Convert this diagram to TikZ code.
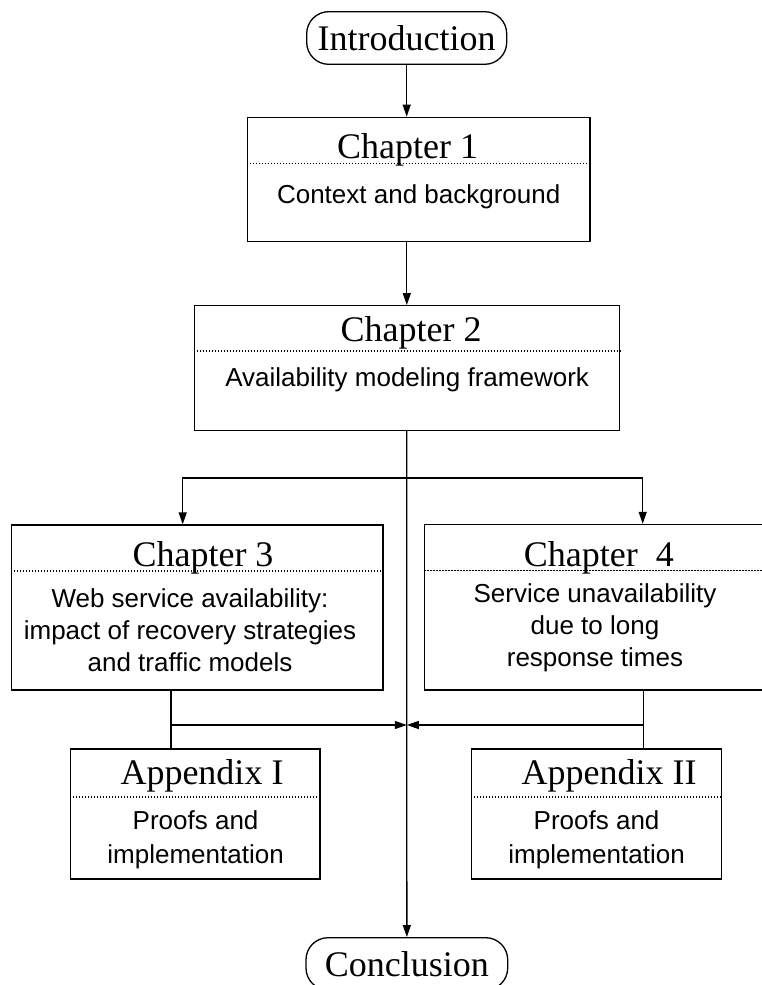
\documentclass[tikz,border=0pt]{standalone}
\usepackage{fontspec}
\setmainfont{Liberation Serif}
\newfontfamily\arialf{Liberation Sans}
\usepackage{tikz}
\usetikzlibrary{calc,arrows.meta}
\tikzset{
	box/.style={draw, line width=1.3pt, inner sep=0pt},
	roundbox/.style={box, rounded corners=22pt, font=\fontsize{36}{40}\selectfont},
	title/.style={anchor=base, inner sep=0pt, font=\fontsize{36}{40}\selectfont},
	body/.style={anchor=base, inner sep=0pt, align=center, font=\arialf\fontsize{26}{32}\selectfont},
	sep/.style={line width=1.2pt, dash pattern=on 1.4pt off 1.6pt},
	link/.style={line width=1.3pt},
	arr/.style={link, -{Triangle[length=12pt,width=8pt]}}
}

\begin{document}
\begin{tikzpicture}[x=1pt, y=-1pt]
		%%%%% START %%%%%
		\useasboundingbox (0,0) rectangle (761,985);
		
		\node[roundbox, minimum width=200, minimum height=52.6] (intro) at (406.7,38) {Introduction};
		
		\node[box, minimum width=342.7, minimum height=124.4] (ch1) at (418.65,179.5) {};
		\node[title] (ch1t) at (407.5,158.3) {Chapter 1};
		\draw[sep] ([yshift=-47]ch1.north west) -- ([yshift=-47]ch1.north east);
		\node[body] (ch1b) at (418.7,203.3) {Context and background};
		
		\node[box, minimum width=425, minimum height=124.6] (ch2) at (406.8,368) {};
		\node[title] (ch2t) at (411,341.7) {Chapter 2};
		\draw[sep] ([yshift=-46]ch2.north west) -- ([yshift=-46]ch2.north east);
		\node[body] (ch2b) at (407.2,386) {Availability modeling framework};
		
		% multi-line texts sit on their last line
		\node[box, minimum width=371.3, minimum height=165] (ch3) at (197.35,607.5) {};
		\node[title] (ch3t) at (203,566.7) {Chapter 3};
		\draw[sep] ([yshift=-46.7]ch3.north west) -- ([yshift=-46.7]ch3.north east);
		\node[body] (ch3b) at (190,671.7) {Web service availability:\\impact of recovery strategies\\and traffic models};
		
		\node[box, minimum width=345.2, minimum height=165.5] (ch4) at (597.4,607.25) {};
		\node[title] (ch4t) at (598.8,566.7) {Chapter\ \ 4};
		\draw[sep] ([yshift=-46.5]ch4.north west) -- ([yshift=-46.5]ch4.north east);
		\node[body] (ch4b) at (595,666) {Service unavailability\\due to long\\response times};
		
		\node[box, minimum width=249.6, minimum height=130] (appI) at (195.2,814) {};
		\node[title] (appIt) at (202,784) {Appendix I};
		\draw[sep] ([yshift=-48.7]appI.north west) -- ([yshift=-48.7]appI.north east);
		\node[body, font=\arialf\fontsize{26}{34.3}\selectfont] (appIb) at (195.6,863.3) {Proofs and\\implementation};
		
		\node[box, minimum width=250.4, minimum height=130] (appII) at (596.6,814) {};
		\node[title] (appIIt) at (609,784) {Appendix II};
		\draw[sep] ([yshift=-48.7]appII.north west) -- ([yshift=-48.7]appII.north east);
		\node[body, font=\arialf\fontsize{26}{34.3}\selectfont] (appIIb) at (596.6,863.3) {Proofs and\\implementation};
		
		\node[roundbox, minimum width=201.7, minimum height=52.3] (concl) at (406.85,963.85) {Conclusion};
		
		% connectors
		\draw[arr] (intro.south) -- (intro.south |- ch1.north);
		\draw[arr] (ch2.north |- ch1.south) -- (ch2.north);
		
		\coordinate (split) at ([yshift=-47]ch2.south);
		\draw[arr] (split) -| ([xshift=-14.65]ch3.north);
		\draw[arr] (split) -| ([xshift=45.3]ch4.north);
		\draw[arr] (ch2.south) -- (concl.north);
		
		\coordinate (mergeL) at (170.9,725);
		\coordinate (mergeR) at (643.2,725);
		\draw[link] (ch3.south -| mergeL) -- (appI.north -| mergeL);
		\draw[link] (ch4.south -| mergeR) -- (appII.north -| mergeR);
		\draw[arr] (mergeL) -- (mergeL -| ch2.south);
		\draw[arr] (mergeR) -- (mergeR -| ch2.south);
		
		%%%%% END %%%%%
\end{tikzpicture}
\end{document}
